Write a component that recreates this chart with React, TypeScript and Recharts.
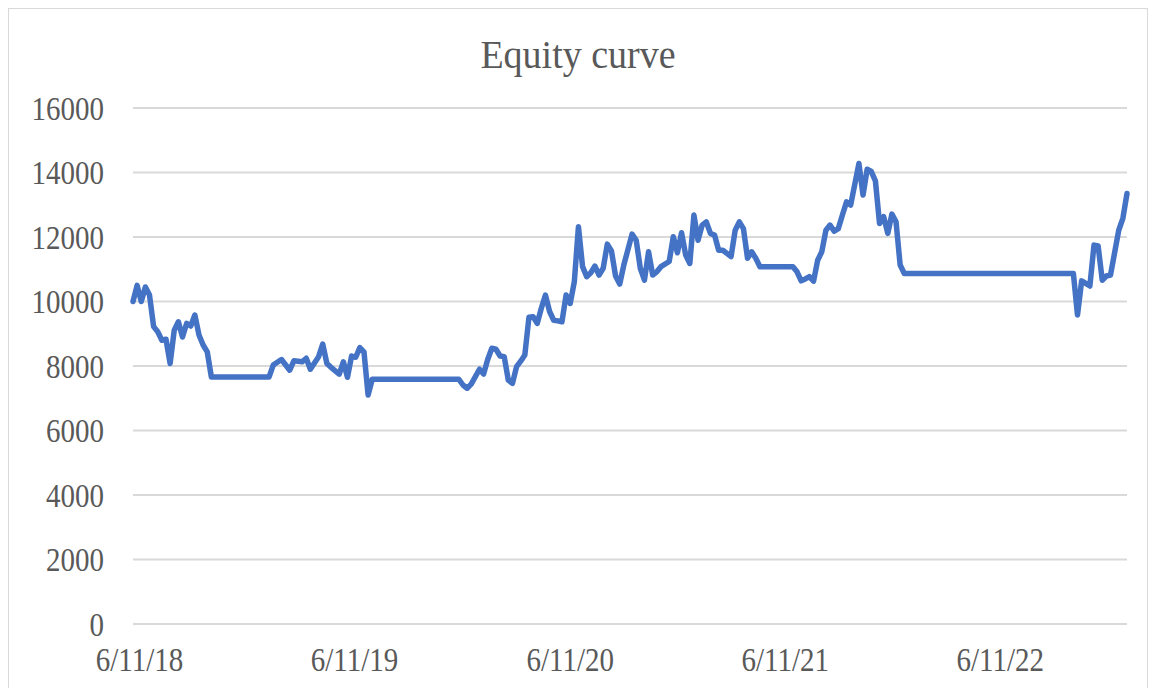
import React from 'react';
import { LineChart, Line, XAxis, YAxis, CartesianGrid } from 'recharts';

// weekly equity samples, week 0 = 31 May 2018
const START = Date.UTC(2018, 4, 31);
const WEEK = 7 * 24 * 3600 * 1000;

const weeks = [
  0, 1, 2, 3, 4, 5, 6, 7, 8, 9, 10, 11, 12, 13, 14, 15, 16, 17, 18, 19,
  33, 34, 36, 38, 39, 41, 42, 43, 45, 46, 47, 48, 50, 51, 52, 53, 54, 55, 56, 57, 58,
  79, 80, 81, 82, 84, 85, 86, 87, 88, 89, 90, 91, 92, 93, 94, 95, 96, 97, 98, 99,
  100, 101, 102, 103, 104, 105, 106, 107, 108, 109, 110, 111, 112, 113, 114, 115, 116, 117, 118, 119,
  121, 122, 123, 124, 125, 126, 127, 128, 130, 131, 132, 133, 134, 135, 136, 137, 138, 139,
  140, 141, 142, 143, 144, 145, 146, 147, 148, 149, 150, 151, 152,
  160, 161, 162, 163, 164, 165, 166, 167, 168, 169, 170, 171, 172, 173, 174, 176, 177, 178, 179,
  180, 181, 182, 183, 184, 185, 186, 187,
  228, 229, 230, 231, 232, 233, 234, 235, 236, 237, 239, 240, 241,
];

const equity = [
  10000, 10500, 10000, 10450, 10200, 9220, 9060, 8800, 8830, 8080, 9110, 9370, 8900, 9320, 9240, 9580, 8960, 8650, 8440, 7660,
  7660, 8030, 8200, 7870, 8160, 8130, 8240, 7900, 8290, 8680, 8080, 7960, 7750, 8130, 7650, 8310, 8270, 8570, 8440, 7100, 7590,
  7590, 7410, 7310, 7440, 7900, 7750, 8200, 8550, 8520, 8310, 8290, 7560, 7460, 7980, 8150, 8340, 9510, 9530, 9320, 9790,
  10200, 9690, 9420, 9400, 9370, 10200, 9940, 10610, 12320, 11080, 10770, 10890, 11100, 10820, 11030, 11780, 11570, 10790, 10540, 11130,
  12090, 11900, 11030, 10660, 11540, 10820, 10920, 11080, 11240, 12010, 11510, 12130, 11440, 11180, 12680, 11900, 12370, 12470,
  12110, 12060, 11590, 11590, 11490, 11390, 12210, 12470, 12260, 11340, 11540, 11340, 11080,
  11080, 10920, 10640, 10700, 10770, 10630, 11280, 11540, 12210, 12370, 12180, 12260, 12680, 13090, 12990, 14280, 13300, 14100, 14030,
  13740, 12420, 12630, 12110, 12710, 12470, 11130, 10870,
  10870, 9580, 10640, 10560, 10480, 11750, 11720, 10660, 10790, 10820, 12210, 12580, 13350,
];

const xLabels = ['6/11/18', '6/11/19', '6/11/20', '6/11/21', '6/11/22'];
const yTicks = [0, 2000, 4000, 6000, 8000, 10000, 12000, 14000, 16000];

const data = weeks.map((w, i) => ({ t: START + w * WEEK, equity: equity[i] }));

const xTicks = xLabels.map((s) => {
  const [m, d, y] = s.split('/').map(Number);
  return Date.UTC(2000 + y, m - 1, d);
});

const font = '"Liberation Serif", "Times New Roman", serif';
const textProps = { fontFamily: font, fontSize: 29, fill: '#595959' };

// the source image is a bit stretched vertically, so the labels are too
const XTick = ({ x, y, payload }: any) => (
  <g transform={`translate(${x},${y}) scale(1,1.14)`}>
    <text x={0} y={0} dy="0.71em" textAnchor="middle" {...textProps}>
      {xLabels[xTicks.indexOf(payload.value)] ?? ''}
    </text>
  </g>
);

const YTick = ({ x, y, payload }: any) => (
  <g transform={`translate(${x},${y}) scale(1,1.14)`}>
    <text x={0} y={0} dy="0.355em" textAnchor="end" {...textProps}>
      {payload.value}
    </text>
  </g>
);

export default function App() {
  return (
    <div
      style={{
        position: 'relative',
        width: 1138,
        height: 680,
        border: '1px solid #d9d9d9',
        background: '#fff',
      }}
    >
      <div
        style={{
          position: 'absolute',
          top: 26,
          left: 0,
          width: '100%',
          textAlign: 'center',
          fontFamily: font,
          fontSize: 38,
          lineHeight: '38px',
          color: '#595959',
          transform: 'scaleY(1.08)',
        }}
      >
        Equity curve
      </div>
      <LineChart width={1138} height={680} data={data} margin={{ top: 99, right: 20, left: 14, bottom: 0 }}>
        <CartesianGrid vertical={false} stroke="#d9d9d9" strokeWidth={2} />
        <XAxis
          dataKey="t"
          type="number"
          domain={[START, START + 241 * WEEK]}
          ticks={xTicks}
          axisLine={false}
          tickLine={false}
          tickMargin={18}
          height={65}
          tick={<XTick />}
        />
        <YAxis
          domain={[0, 16000]}
          ticks={yTicks}
          axisLine={false}
          tickLine={false}
          tickMargin={23}
          width={110}
          tick={<YTick />}
        />
        <Line
          type="linear"
          dataKey="equity"
          stroke="#4472C4"
          strokeWidth={5.5}
          strokeLinejoin="round"
          strokeLinecap="round"
          dot={false}
          isAnimationActive={false}
        />
      </LineChart>
    </div>
  );
}
